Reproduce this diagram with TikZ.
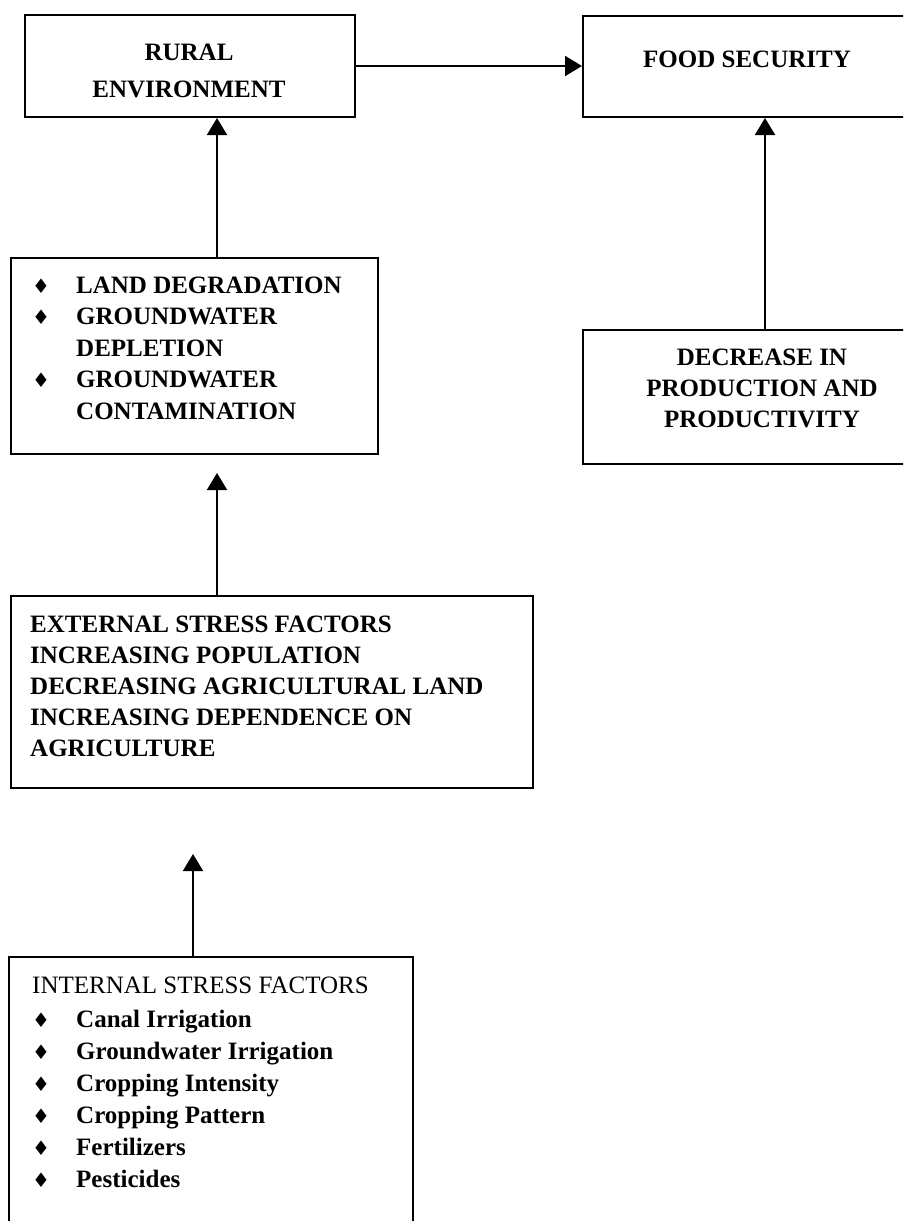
\documentclass[tikz,border=0pt]{standalone}
\usepackage{fontspec}
\setmainfont{Liberation Serif}
\newfontfamily\symfont{DejaVu Sans}
\usetikzlibrary{arrows.meta}
\tikzset{
  box/.style={draw, line width=2pt, rectangle, inner sep=0pt, anchor=north west},
  txt/.style={inner sep=0pt, font=\fontsize{25}{31.5}\selectfont\bfseries, align=left},
  ctxt/.style={inner sep=0pt, font=\fontsize{25}{31}\selectfont\bfseries, align=center},
  arr/.style={line width=2pt, -{Triangle[length=17pt,width=20pt]}}
}
\newcommand{\bul}{\makebox[44pt][l]{\fontsize{20}{20}\selectfont\symfont ♦}}
\newcommand{\nob}{\hspace*{44pt}}
\begin{document}
\begin{tikzpicture}[x=1pt,y=-1pt]
\path[use as bounding box, clip] (0,0) rectangle (903,1221);
\fill[white] (0,0) rectangle (903,1221);
% boxes
\node[box, minimum width=330pt, minimum height=102pt] (rural) at (24,14) {};
\node[box, minimum width=340pt, minimum height=101pt] (food) at (582,15) {};
\node[box, minimum width=367pt, minimum height=196pt] (land) at (10,257) {};
\node[box, minimum width=340pt, minimum height=134pt] (dec) at (582,329) {};
\node[box, minimum width=522pt, minimum height=192pt] (ext) at (10,595) {};
\node[box, minimum width=404pt, minimum height=300pt] (int) at (8,956) {};
% texts (anchor base = baseline of the last line)
\node[ctxt, font=\fontsize{25}{37}\selectfont\bfseries, anchor=base] (ruralt) at (189,97) {RURAL\\ENVIRONMENT};
\node[ctxt, anchor=base] (foodt) at (747,67) {FOOD SECURITY};
\node[txt, anchor=base west] (landt) at (32,419) {\bul LAND DEGRADATION\\\bul GROUNDWATER\\\nob DEPLETION\\\bul GROUNDWATER\\\nob CONTAMINATION};
\node[ctxt, anchor=base] (dect) at (762,427) {DECREASE IN\\PRODUCTION AND\\PRODUCTIVITY};
\node[txt, font=\fontsize{25}{31}\selectfont\bfseries, anchor=base west] (extt) at (30,756) {EXTERNAL STRESS FACTORS\\INCREASING POPULATION\\DECREASING AGRICULTURAL LAND\\INCREASING DEPENDENCE ON\\AGRICULTURE};
\node[txt, font=\fontsize{25}{32}\selectfont, anchor=base west] (intt) at (32,993) {INTERNAL STRESS FACTORS};
\node[txt, font=\fontsize{25}{32}\selectfont\bfseries, anchor=base west] (intl) at (32,1187) {\bul Canal Irrigation\\\bul Groundwater Irrigation\\\bul Cropping Intensity\\\bul Cropping Pattern\\\bul Fertilizers\\\bul Pesticides};
% connectors
\coordinate (a3) at (217,473);
\coordinate (a4) at (193,854);
\draw[arr] (rural.east) -- (rural.east -| food.west);
\draw[arr] ([xshift=207pt]land.north west) -- ([xshift=207pt]land.north west |- rural.south);
\draw[arr] ([xshift=207pt]ext.north west) -- (a3);
\draw[arr] ([xshift=185pt]int.north west) -- (a4);
\draw[arr] ([xshift=183pt]dec.north west) -- ([xshift=183pt]dec.north west |- food.south);
\end{tikzpicture}
\end{document}
